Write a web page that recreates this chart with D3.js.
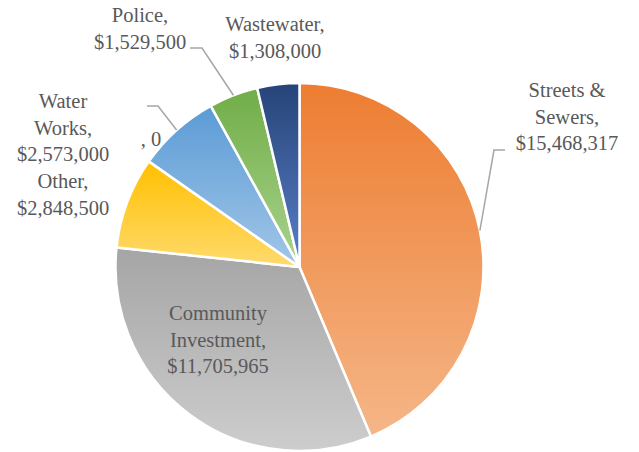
<!DOCTYPE html>
<html>
<head>
<meta charset="utf-8">
<script src="https://cdn.jsdelivr.net/npm/d3@7"></script>
</head>
<body style="margin:0">
<svg id="budget-pie" width="639" height="452"></svg>
<script>
// Budget by department
const categories = ["Streets & Sewers", "Community Investment", "Other", "Water Works", "", "Police", "Wastewater"];
const amounts = [15468317, 11705965, 2848500, 2573000, 0, 1529500, 1308000];
const topColors = ["#ED7D31", "#A5A5A5", "#FFC000", "#5B9BD5", "#4472C4", "#70AD47", "#264478"];
const bottomColors = ["#F5B688", "#CDCDCD", "#FFDA6E", "#A2C6E8", "#8FAADC", "#AAD38E", "#5A7FC8"];

const svg = d3.select("#budget-pie");
const cx = 299.5, cy = 267, radius = 184;

const data = categories.map((c, i) => ({ name: c, value: amounts[i], i }));

const pie = d3.pie().sort(null).value(d => d.value).startAngle(0).endAngle(2 * Math.PI);
const arcs = pie(data);
const arc = d3.arc().innerRadius(0).outerRadius(radius);

// vertical gradient per slice
const defs = svg.append("defs");
data.forEach((d, i) => {
  const g = defs.append("linearGradient")
    .attr("id", "grad" + i)
    .attr("x1", 0).attr("y1", 0).attr("x2", 0).attr("y2", 1);
  g.append("stop").attr("offset", "0%").attr("stop-color", topColors[i]);
  g.append("stop").attr("offset", "100%").attr("stop-color", bottomColors[i]);
});

const g = svg.append("g").attr("transform", `translate(${cx},${cy})`);

g.selectAll("path.slice")
  .data(arcs.filter(a => a.data.value > 0))
  .join("path")
  .attr("class", "slice")
  .attr("d", arc)
  .attr("fill", d => `url(#grad${d.data.i})`)
  .attr("stroke", "#fff")
  .attr("stroke-width", 2.5)
  .attr("stroke-linejoin", "round");

const fmt = d3.format(",");
const money = v => "$" + fmt(v);

// label layout: anchor position (absolute) and lines
const labelLayout = {
  "Streets & Sewers": { x: 567, y: 90, lines: ["Streets &", "Sewers,", null] },
  "Community Investment": { x: 218, y: 313, lines: ["Community", "Investment,", null] },
  "Other": { x: 63, y: 181, lines: ["Other,", null] },
  "Water Works": { x: 63, y: 101, lines: ["Water", "Works,", null] },
  "": { x: 151, y: 139, lines: [", 0"] },
  "Police": { x: 140, y: 15, lines: ["Police,", null] },
  "Wastewater": { x: 275, y: 24, lines: ["Wastewater,", null] }
};

const lineH = 26.5;
const labelRows = [];
arcs.forEach(a => {
  const lay = labelLayout[a.data.name];
  lay.lines.forEach((ln, k) => {
    labelRows.push({ x: lay.x, y: lay.y + k * lineH + 7, text: ln === null ? money(a.data.value) : ln });
  });
});

svg.append("g").selectAll("text")
  .data(labelRows)
  .join("text")
  .attr("x", d => d.x)
  .attr("y", d => d.y)
  .attr("text-anchor", "middle")
  .attr("font-family", "Liberation Serif")
  .style("font-family", "\"Liberation Serif\", Tinos, serif", "important")
  .style("font-size", "20.5px")
  .style("fill", "#595959")
  .text(d => d.text);

// leader lines from label to the slice's mid-angle on the rim
function rimPoint(a) {
  const m = (a.startAngle + a.endAngle) / 2;
  return [cx + radius * Math.sin(m), cy - radius * Math.cos(m)];
}
const leaders = [
  { slice: 0, pts: [[505, 150], [494, 150]] },
  { slice: 3, pts: [[147, 106], [158, 106]] },
  { slice: 5, pts: [[190, 48], [202, 48]] }
];
const line = d3.line();
svg.append("g")
  .selectAll("path")
  .data(leaders)
  .join("path")
  .attr("d", d => line([d.pts[0], d.pts[1], rimPoint(arcs[d.slice])]))
  .attr("fill", "none")
  .attr("stroke", "#A6A6A6")
  .attr("stroke-width", 1.5);
</script>
</body>
</html>
